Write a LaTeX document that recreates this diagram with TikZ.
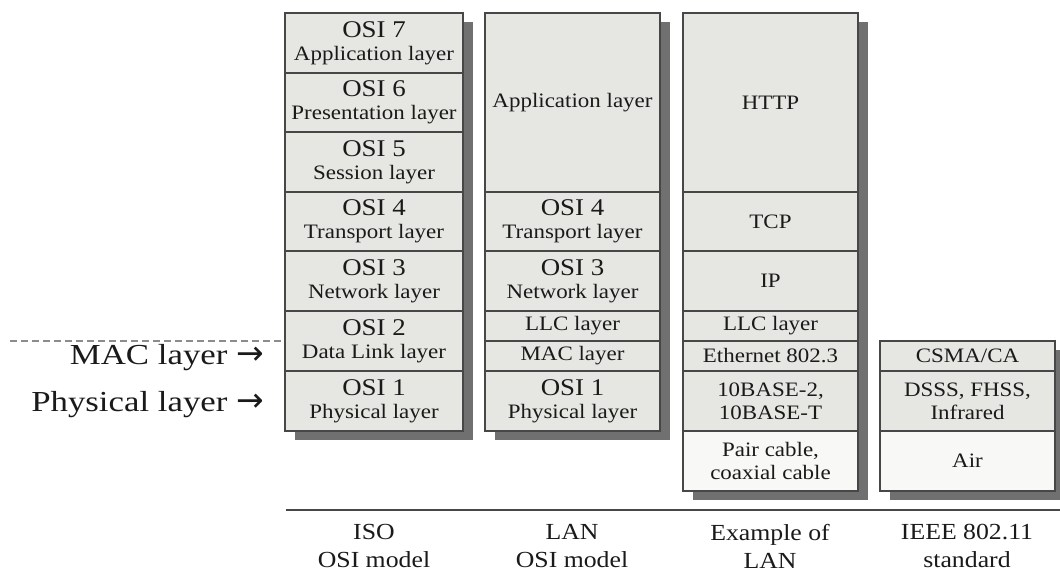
\documentclass[tikz,border=0pt]{standalone}
\usepackage{fontspec}
\setmainfont{Liberation Serif}[FakeStretch=1.12]
\newfontfamily\wideserif{Liberation Serif}[FakeStretch=1.2]
\newfontfamily\arrowfont{DejaVu Sans}
\usetikzlibrary{calc}
\pgfdeclarelayer{background}
\pgfsetlayers{background,main}
\definecolor{linegray}{HTML}{474747}
\definecolor{cellgray}{HTML}{E6E6E2}
\definecolor{cellwhite}{HTML}{F8F8F6}
\definecolor{shadowgray}{HTML}{707070}
\definecolor{textc}{HTML}{1A1A1A}
\definecolor{dashgray}{HTML}{8C8C8C}
\newcommand\osiF{\fontsize{24}{24}\selectfont}
\newcommand\layF{\fontsize{20.5}{23}\selectfont}
\newcommand\bigF{\wideserif\fontsize{29}{30}\selectfont}
\newcommand\capF{\fontsize{23}{28}\selectfont}
\newcommand\arrowsym{{\arrowfont\fontsize{33}{30}\selectfont →}}
\tikzset{
  cell/.style={draw=linegray, line width=1.3pt, fill=cellgray, anchor=north west,
    inner sep=0pt, outer sep=0pt, align=center, text=textc, font=\layF},
  wcell/.style={cell, fill=cellwhite},
  shadowbox/.style={fill=shadowgray},
  sidelabel/.style={anchor=east, inner sep=0pt, text=textc, font=\bigF},
  caption/.style={align=center, inner sep=0pt, text=textc, font=\capF},
  baseline rule/.style={draw=linegray, line width=1.8pt},
  dashrule/.style={draw=dashgray, line width=1.4pt, dash pattern=on 7pt off 4pt}
}
\begin{document}
\begin{tikzpicture}[x=1pt,y=-1pt]
\useasboundingbox (0,0) rectangle (1060,571);
% column 1: ISO OSI model
\node[cell, minimum width=178pt, minimum height=60pt] (a7) at (285,13) {{\osiF OSI 7}\\Application layer};
\node[cell, minimum width=178pt, minimum height=59pt] (a6) at (285,73) {{\osiF OSI 6}\\Presentation layer};
\node[cell, minimum width=178pt, minimum height=60pt] (a5) at (285,132) {{\osiF OSI 5}\\Session layer};
\node[cell, minimum width=178pt, minimum height=59pt] (a4) at (285,192) {{\osiF OSI 4}\\Transport layer};
\node[cell, minimum width=178pt, minimum height=60pt] (a3) at (285,251) {{\osiF OSI 3}\\Network layer};
\node[cell, minimum width=178pt, minimum height=60pt] (a2) at (285,311) {{\osiF OSI 2}\\Data Link layer};
\node[cell, minimum width=178pt, minimum height=60pt] (a1) at (285,371) {{\osiF OSI 1}\\Physical layer};
% column 2: LAN OSI model
\node[cell, minimum width=175pt, minimum height=179pt] (b7) at (485,13) {Application layer};
\node[cell, minimum width=175pt, minimum height=59pt] (b4) at (485,192) {{\osiF OSI 4}\\Transport layer};
\node[cell, minimum width=175pt, minimum height=60pt] (b3) at (485,251) {{\osiF OSI 3}\\Network layer};
\node[cell, minimum width=175pt, minimum height=30pt] (bllc) at (485,311) {LLC layer};
\node[cell, minimum width=175pt, minimum height=30pt] (bmac) at (485,341) {MAC layer};
\node[cell, minimum width=175pt, minimum height=60pt] (b1) at (485,371) {{\osiF OSI 1}\\Physical layer};
% column 3: Example of LAN
\node[cell, minimum width=175pt, minimum height=179pt] (c7) at (683,13) {HTTP};
\node[cell, minimum width=175pt, minimum height=59pt] (c4) at (683,192) {TCP};
\node[cell, minimum width=175pt, minimum height=60pt] (c3) at (683,251) {IP};
\node[cell, minimum width=175pt, minimum height=30pt] (cllc) at (683,311) {LLC layer};
\node[cell, minimum width=175pt, minimum height=30pt] (ceth) at (683,341) {Ethernet 802.3};
\node[cell, minimum width=175pt, minimum height=60pt] (cbase) at (683,371) {10BASE-2,\\10BASE-T};
\node[wcell, minimum width=175pt, minimum height=60pt] (ccable) at (683,431) {Pair cable,\\coaxial cable};
% column 4: IEEE 802.11 standard
\node[cell, minimum width=175pt, minimum height=30pt] (dcsma) at (880,341) {CSMA/CA};
\node[cell, minimum width=175pt, minimum height=60pt] (dphy) at (880,371) {DSSS, FHSS,\\Infrared};
\node[wcell, minimum width=175pt, minimum height=60pt] (dair) at (880,431) {Air};
% shadows and page background
\begin{pgfonlayer}{background}
\fill[white] (0,0) rectangle (1060,571);
\fill[shadowbox] ($(a7.north west)+(10,9)$) rectangle ($(a1.south east)+(10,9)$);
\fill[shadowbox] ($(b7.north west)+(10,9)$) rectangle ($(b1.south east)+(10,9)$);
\fill[shadowbox] ($(c7.north west)+(10,9)$) rectangle ($(ccable.south east)+(10,9)$);
\fill[shadowbox] ($(dcsma.north west)+(10,9)$) rectangle ($(dair.south east)+(10,9)$);
\end{pgfonlayer}
% left labels and dashed line
\coordinate (dl) at (10,341);
\draw[dashrule] (dl) -- (dl -| a2.west);
\node[sidelabel] (macl) at (264,358) {MAC layer\hspace{0.3em}\arrowsym};
\node[sidelabel] (phyl) at (264,405) {Physical layer\hspace{0.3em}\arrowsym};
% bottom rule and captions
\coordinate (rl) at (286,510);
\coordinate (rr) at (1060,510);
\draw[baseline rule] (rl) -- (rr);
\node[caption] (capa) at (374,546) {ISO\\OSI model};
\node[caption] (capb) at (572,546) {LAN\\OSI model};
\node[caption] (capc) at (770,546) {Example of\\LAN};
\node[caption] (capd) at (967,546) {IEEE 802.11\\standard};
\end{tikzpicture}
\end{document}
